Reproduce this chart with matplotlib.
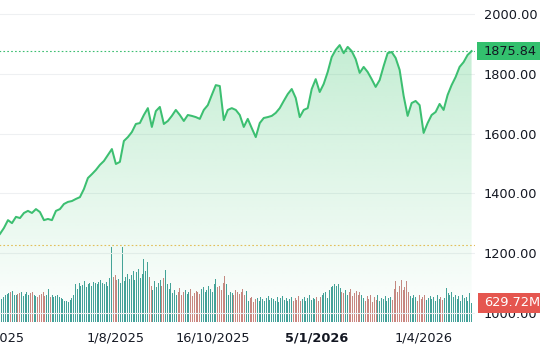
import numpy as np
import matplotlib
matplotlib.use("Agg")
import matplotlib.pyplot as plt
from matplotlib.patches import Rectangle, Polygon

# ---- data ----
price = [1264, 1284, 1310, 1300, 1321, 1317, 1334, 1341, 1334, 1347,
         1337, 1310, 1314, 1310, 1341, 1347, 1364, 1371, 1374, 1381,
         1387, 1414, 1451, 1464, 1478, 1495, 1508, 1528, 1548, 1498,
         1505, 1575, 1588, 1605, 1632, 1635, 1662, 1685, 1622, 1675,
         1689, 1632, 1642, 1659, 1679, 1662, 1642, 1662, 1659, 1655,
         1649, 1679, 1695, 1729, 1762, 1759, 1645, 1679, 1685, 1679,
         1662, 1622, 1649, 1618, 1588, 1635, 1652, 1655, 1659, 1669,
         1685, 1709, 1732, 1749, 1719, 1655, 1679, 1685, 1749, 1782,
         1739, 1766, 1806, 1856, 1880, 1896, 1869, 1890, 1876, 1849,
         1803, 1823, 1806, 1782, 1756, 1779, 1826, 1869, 1873, 1853,
         1813, 1726, 1659, 1702, 1709, 1695, 1602, 1635, 1662, 1672,
         1699, 1679, 1729, 1762, 1789, 1823, 1839, 1863, 1875.84]

volume = [700, 760, 820, 880, 930, 960, 1000, 1020, 900, 880,
          930, 960, 1000, 870, 940, 1010, 910, 960, 990, 900,
          860, 820, 880, 940, 980, 870, 900, 1080, 840, 880,
          820, 860, 900, 830, 790, 760, 700, 680, 650, 720,
          800, 880,
          1250, 1100, 1300, 1180, 1240, 1350, 1150, 1260, 1300, 1200,
          1330, 1280, 1250, 1320, 1380, 1300, 1260, 1340, 1200, 1460, 2480,
          1500, 1560, 1380, 1420, 1300, 2490, 1350, 1500, 1600, 1420,
          1550, 1700, 1380, 1650, 1750, 1450, 1600, 2100, 1680, 2000, 1500,
          1200, 1050, 1350, 1150, 1280, 1400, 1180, 1450, 1720, 1250, 1100, 1300,
          950, 1050, 900, 1000, 1120, 880, 980, 1060, 920, 1000, 1100, 870, 950, 1020,
          1000, 930, 1080, 1150, 980, 1050, 1200, 1100, 1000, 1250, 1420, 1150,
          1180, 1050, 1300, 1520, 1250,
          900, 1000, 950, 880, 1050, 980, 920, 1000, 1080, 900, 1030,
          700, 780, 820, 650, 750, 800, 700, 830, 760, 680,
          790, 850, 720, 800, 760, 700, 820, 650, 780, 860,
          740, 800, 700, 760, 830, 680, 790, 720, 850, 700,
          760, 820, 690, 780, 880, 720, 800, 760, 840, 700,
          820, 900, 950, 1000, 780, 1050, 1150,
          1200, 1250, 1180, 1260, 1130, 1000,
          950, 1050, 900, 1000, 1080, 850, 950, 1020, 880, 980, 900,
          800, 700, 850, 760, 900, 650, 820, 740, 880, 700, 800, 760, 850, 690,
          780, 820, 720,
          1100, 1350, 1000, 1200, 1380, 1050, 1150, 1360, 980,
          850, 780, 900, 820, 700, 880, 760, 840, 900, 720,
          800, 860, 750, 830, 700, 880, 760, 820, 740, 800,
          1130,
          950, 900, 1000, 820, 880, 760, 850, 700, 900, 780, 830, 700, 950, 629.72]

base_price = 1227
price_ticks = [1000, 1200, 1400, 1600, 1800, 2000]
date_ticks = [-2.5, 64.4, 118.3, 176.0, 235.5]
date_labels = ["2/5/2025", "1/8/2025", "16/10/2025", "5/1/2026", "1/4/2026"]

# ---- figure ----
W, H = 540, 354
fig = plt.figure(figsize=(W / 100, H / 100), dpi=100)
pos = [-11 / W, 32 / H, 486 / W, 322 / H]
ax = fig.add_axes(pos)
ax2 = ax.twinx()
ax.set_zorder(2)
ax2.set_zorder(1)
ax.patch.set_visible(False)
ax2.patch.set_facecolor("white")

nvol = len(volume)
vx = np.arange(nvol)
px = np.linspace(0, nvol - 1, len(price))
xmin, xmax = -6.1, 263.9
ymin, ymax = 969, 2047

# volume bars
p_at_bar = np.interp(vx, px, price)
up = np.r_[True, np.diff(p_at_bar) >= 0]
colors = np.where(up, "#43a199", "#c98680")
ax2.bar(vx, volume, width=0.55, color=colors, linewidth=0)
ax2.set_ylim(0, 10670)
ax2.set_yticks([])
for s in ax2.spines.values():
    s.set_visible(False)

# grid
for t in price_ticks:
    ax.axhline(t, color="#eef0f2", lw=0.8, zorder=0)

# gradient fill
grad = np.zeros((256, 1, 4))
grad[:, 0, 0] = 84 / 255
grad[:, 0, 1] = 204 / 255
grad[:, 0, 2] = 128 / 255
top_y = max(price)
grad[:, 0, 3] = np.linspace(0.34, 0.0, 256)
im = ax.imshow(grad, extent=[px[0], px[-1], ymin, top_y], origin="upper",
               aspect="auto", zorder=1, interpolation="bilinear")
verts = np.column_stack([px, price])
verts = np.vstack([verts, [px[-1], ymin], [px[0], ymin]])
poly = Polygon(verts, closed=True, transform=ax.transData, facecolor="none", edgecolor="none")
ax.add_patch(poly)
im.set_clip_path(poly)

# line
ax.plot(px, price, color="#3cbf71", lw=1.45, zorder=3, solid_joinstyle="round")

# dotted reference lines
ax.axhline(price[-1], color="#3cbf71", lw=0.8, ls=(0, (1.5, 2)), zorder=2)
ax.axhline(base_price, color="#e2bf5a", lw=0.8, ls=(0, (1.5, 2)), zorder=2)

ax.set_xlim(xmin, xmax)
ax2.set_xlim(xmin, xmax)
ax.set_ylim(ymin, ymax)

ax.yaxis.tick_right()
ax.set_yticks(price_ticks)
ax.set_yticklabels([f"{t:.2f}" for t in price_ticks])
ax.tick_params(axis="y", length=0, pad=6.5, labelsize=9.3, colors="#131722")
ax.set_xticks(date_ticks)
ax.set_xticklabels(date_labels)
ax.tick_params(axis="x", length=0, pad=7, labelsize=9.3, colors="#131722")
for lbl in ax.get_xticklabels():
    if lbl.get_text() == "5/1/2026":
        lbl.set_fontweight("bold")
for s in ax.spines.values():
    s.set_visible(False)

# value labels on the right
inv = fig.transFigure.inverted()
y_last = inv.transform(ax.transData.transform((0, price[-1])))[1]
box_h = 18 / H
fig.add_artist(Rectangle((477 / W, y_last - box_h / 2), 70 / W, box_h,
                         transform=fig.transFigure, facecolor="#33c06e",
                         edgecolor="none", zorder=5))
fig.text(484 / W, y_last, f"{price[-1]:.2f}", ha="left", va="center",
         fontsize=9.3, color="#131722", zorder=6)

y_vol = inv.transform(ax2.transData.transform((0, volume[-1])))[1]
box_h2 = 20 / H
fig.add_artist(Rectangle((478 / W, y_vol - box_h2 / 2), 70 / W, box_h2,
                         transform=fig.transFigure, facecolor="#e5564f",
                         edgecolor="none", zorder=5))
fig.text(484 / W, y_vol, f"{volume[-1]:.2f}M", ha="left", va="center",
         fontsize=9.3, color="white", zorder=6)

fig.savefig("out.png", dpi=100, facecolor="white")
